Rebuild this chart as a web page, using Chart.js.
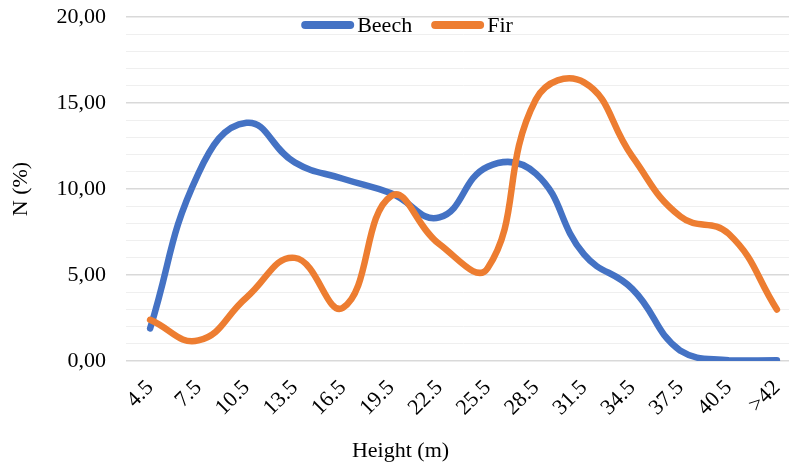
<!DOCTYPE html>
<html>
<head>
<meta charset="utf-8">
<script src="https://cdn.jsdelivr.net/npm/chart.js@4.4.1/dist/chart.umd.min.js"></script>
<style>
    body { margin: 0; overflow: hidden; background: #fff; }
    #wrap { width: 810px; height: 466px; }
</style>
</head>
<body>
<div id="wrap"><canvas id="grafico"></canvas></div>
<script>
const alturas = ['4.5', '7.5', '10.5', '13.5', '16.5', '19.5', '22.5', '25.5', '28.5', '31.5', '34.5', '37.5', '40.5', '>42'];
const faia = [1.9, 10.9, 13.85, 11.55, 10.6, 9.75, 8.35, 11.3, 10.9, 6.2, 4.2, 0.6, 0.05, 0.05];
const abeto = [2.4, 1.2, 3.7, 6.0, 3.1, 9.6, 6.8, 5.4, 15.2, 16.2, 11.9, 8.4, 7.4, 3.0];

const fonte = 'Liberation Serif, Times New Roman, serif';
const tamanho = 22;

// legenda desenhada dentro da area do grafico, em cima
const legendaInterna = {
    id: 'legendaInterna',
    afterDraw(chart) {
        const c = chart.ctx;
        const linha = 53, folga = 3, entre = 19;
        c.save();
        c.font = tamanho + 'px ' + fonte;
        const itens = chart.data.datasets.map(d => ({
            texto: d.label,
            cor: d.borderColor,
            largura: linha + folga + c.measureText(d.label).width
        }));
        const total = itens.reduce((s, i) => s + i.largura, 0) + entre * (itens.length - 1);
        let x = 407 - total / 2;
        const y = 25;
        itens.forEach(i => {
            c.strokeStyle = i.cor;
            c.lineWidth = 8;
            c.lineCap = 'round';
            c.beginPath();
            c.moveTo(x + 4, y);
            c.lineTo(x + linha - 4, y);
            c.stroke();
            c.fillStyle = '#000';
            c.textBaseline = 'middle';
            c.textAlign = 'left';
            c.fillText(i.texto, x + linha + folga, y + 1);
            x += i.largura + entre;
        });
        c.restore();
    }
};

const ctx = document.getElementById('grafico');

new Chart(ctx, {
    type: 'line',

    data: {
        labels: alturas,

        datasets: [
            {
                label: 'Beech',
                data: faia,
                borderColor: '#4472C4',
                backgroundColor: '#4472C4',
                borderWidth: 6.5,
                borderCapStyle: 'round',
                borderJoinStyle: 'round',
                pointRadius: 0,
                tension: 0.45,
                order: 1
            },

            {
                label: 'Fir',
                data: abeto,
                borderColor: '#ED7D31',
                backgroundColor: '#ED7D31',
                borderWidth: 6.5,
                borderCapStyle: 'round',
                borderJoinStyle: 'round',
                pointRadius: 0,
                tension: 0.45,
                order: 0
            }
        ]
    },

    options: {
        responsive: true,
        maintainAspectRatio: false,
        animation: false,
        layout: { padding: { top: 17, right: 9, left: 0, bottom: 0 } },
        plugins: {
            tooltip: { enabled: false },
            legend: { display: false },
            title: {
                display: true,
                position: 'bottom',
                text: 'Height (m)',
                color: '#000',
                font: { family: fonte, size: tamanho, weight: 'normal' },
                padding: { top: 4, bottom: 2 }
            }
        },
        scales: {
            x: {
                offset: true,
                grid: { display: false, drawTicks: false },
                border: { display: false },
                ticks: {
                    color: '#000',
                    font: { family: fonte, size: tamanho },
                    minRotation: 45,
                    maxRotation: 45,
                    autoSkip: false,
                    padding: 14
                },
                afterFit: (escala) => { escala.height = 72.5; }
            },
            y: {
                min: 0,
                max: 20,
                grid: {
                    drawTicks: false,
                    color: (c) => (c.tick && c.tick.value % 5 === 0) ? '#d9d9d9' : '#efefef',
                    lineWidth: (c) => (c.tick && c.tick.value % 5 === 0) ? 1.5 : 1
                },
                border: { display: false },
                ticks: {
                    stepSize: 1,
                    autoSkip: false,
                    color: '#000',
                    font: { family: fonte, size: tamanho },
                    padding: 20,
                    callback: (v) => v % 5 === 0 ? v.toFixed(2).replace('.', ',') : ''
                },
                title: {
                    display: true,
                    text: 'N (%)',
                    color: '#000',
                    font: { family: fonte, size: tamanho },
                    padding: { top: 8, bottom: 0 }
                },
                afterFit: (escala) => {
                    escala.width = 126;
                    escala.paddingTop = 0;
                    escala.paddingBottom = 0;
                }
            }
        }
    },

    plugins: [legendaInterna]
});
</script>
</body>
</html>
